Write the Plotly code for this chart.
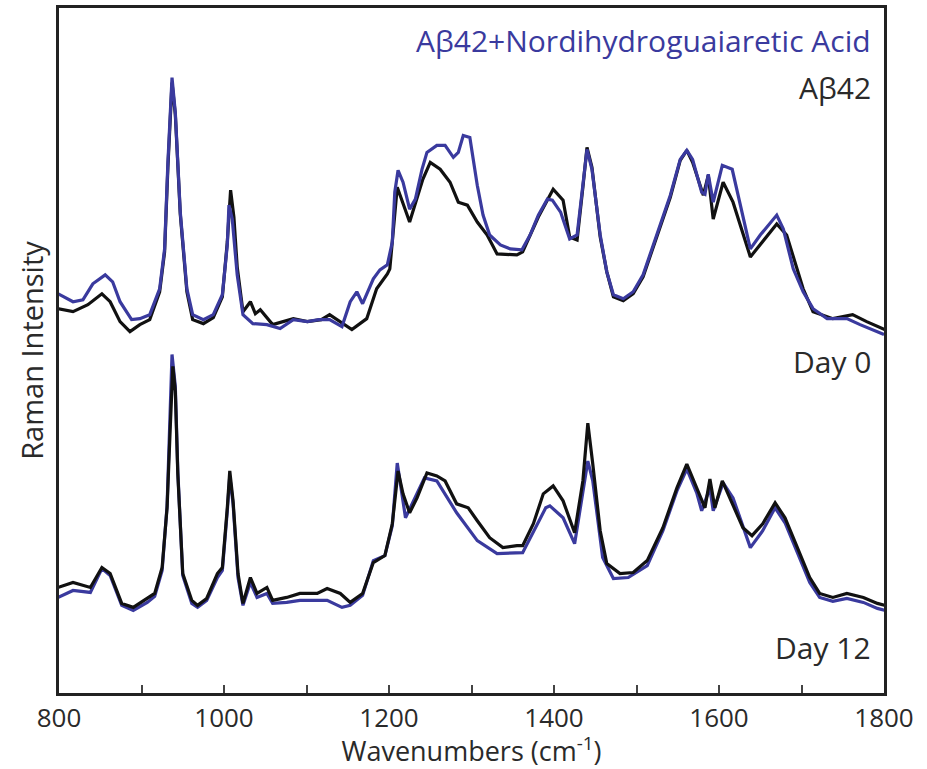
import plotly.graph_objects as go

# ---- Day 0, Aβ42 (black) ----
wn_d0_ab = [799, 817, 835, 852, 862, 874, 886, 898, 910, 922, 928, 932, 937, 941, 947, 955, 962, 975, 987, 998,
            1004, 1008, 1012, 1016, 1023, 1032, 1038, 1044, 1059, 1084, 1101, 1118, 1128, 1140, 1155, 1173, 1185,
            1198, 1201, 1210, 1225, 1241, 1250, 1262, 1274, 1284, 1295, 1307, 1319, 1331, 1355, 1362, 1381, 1399,
            1411, 1419, 1428, 1435, 1440, 1446, 1456, 1464, 1472, 1484, 1496, 1508, 1525, 1541, 1553, 1561, 1568,
            1581, 1587, 1593, 1605, 1617, 1638, 1650, 1670, 1682, 1702, 1714, 1738, 1762, 1779, 1801]
py_d0_ab = [307, 310, 303, 292, 300, 320, 330, 323, 318, 290, 250, 165, 80, 112, 212, 290, 318, 322, 316, 295,
            240, 188, 215, 265, 310, 300, 312, 308, 323, 317, 320, 318, 313, 320, 328, 317, 287,
            272, 267, 185, 220, 177, 160, 167, 180, 200, 203, 220, 233, 252, 253, 250, 215, 187,
            198, 235, 238, 185, 145, 165, 235, 270, 295, 299, 292, 275, 235, 195, 158, 148, 160,
            193, 173, 217, 180, 200, 255, 243, 222, 233, 287, 310, 317, 313, 320, 328]

# ---- Day 0, Aβ42 + NDGA (blue) ----
wn_d0_nd = [799, 817, 829, 841, 856, 865, 874, 888, 898, 910, 922, 928, 932, 937, 941, 947, 955, 962, 975, 987,
            998, 1004, 1006, 1010, 1016, 1023, 1035, 1052, 1068, 1084, 1101, 1115, 1128, 1143, 1153, 1161, 1168,
            1181, 1189, 1198, 1204, 1207, 1211, 1217, 1225, 1232, 1240, 1246, 1258, 1268, 1278, 1284, 1290, 1298,
            1307, 1314, 1322, 1335, 1347, 1361, 1371, 1381, 1392, 1398, 1408, 1419, 1428, 1435, 1440, 1446, 1456,
            1464, 1472, 1484, 1496, 1508, 1525, 1541, 1553, 1561, 1568, 1579, 1583, 1587, 1593, 1604, 1616, 1625,
            1638, 1650, 1670, 1678, 1690, 1702, 1714, 1731, 1755, 1771, 1800]
py_d0_nd = [292, 300, 298, 282, 273, 280, 300, 318, 317, 313, 287, 247, 160, 75, 110, 210, 287, 313, 318, 313,
            293, 243, 203, 217, 273, 313, 322, 323, 327, 318, 320, 318, 318, 325, 300, 290, 302,
            277, 268, 263, 240, 190, 168, 180, 207, 197, 167, 150, 143, 143, 155, 150, 133, 135,
            183, 213, 233, 243, 247, 248, 233, 213, 197, 198, 210, 237, 233, 183, 147, 167, 233,
            270, 293, 297, 290, 273, 233, 193, 157, 148, 157, 190, 192, 172, 200, 163, 167, 200,
            247, 233, 213, 227, 267, 290, 307, 317, 317, 323, 333]

# ---- Day 12, Aβ42 (black) ----
wn_d12_ab = [799, 817, 838, 852, 862, 876, 890, 907, 916, 925, 931, 935, 938, 941, 944, 950, 961, 968, 979, 992,
             998, 1004, 1007, 1011, 1017, 1023, 1032, 1040, 1052, 1059, 1076, 1092, 1113, 1125, 1141, 1153, 1168,
             1181, 1195, 1204, 1211, 1217, 1225, 1234, 1246, 1258, 1268, 1282, 1296, 1307, 1322, 1338, 1355, 1362,
             1375, 1387, 1399, 1411, 1425, 1435, 1441, 1447, 1456, 1464, 1480, 1496, 1513, 1532, 1549, 1561, 1573,
             1583, 1589, 1595, 1604, 1616, 1629, 1640, 1653, 1668, 1680, 1695, 1710, 1722, 1738, 1755, 1775, 1792, 1801]
py_d12_ab = [587, 582, 587, 567, 573, 603, 607, 598, 593, 567, 507, 423, 365, 390, 473, 573, 600, 605, 598, 573,
             567, 507, 470, 500, 573, 603, 577, 593, 587, 600, 597, 593, 593, 588, 593, 602, 593,
             562, 555, 523, 470, 493, 512, 497, 472, 475, 480, 503, 507, 520, 537, 547, 545, 545,
             523, 493, 485, 500, 532, 480, 422, 463, 530, 563, 573, 572, 560, 527, 487, 463, 487,
             507, 478, 507, 480, 503, 527, 535, 523, 502, 517, 547, 577, 593, 597, 593, 597, 603, 605]

# ---- Day 12, Aβ42 + NDGA (blue) ----
wn_d12_nd = [799, 817, 838, 852, 862, 876, 890, 907, 916, 925, 931, 935, 937, 941, 944, 950, 961, 968, 979, 992,
             998, 1004, 1007, 1011, 1017, 1023, 1032, 1040, 1052, 1059, 1076, 1092, 1113, 1125, 1143, 1153, 1168,
             1181, 1195, 1204, 1210, 1220, 1243, 1258, 1282, 1307, 1331, 1362, 1390, 1395, 1411, 1425, 1441, 1447,
             1459, 1472, 1490, 1513, 1532, 1549, 1561, 1573, 1579, 1589, 1593, 1605, 1617, 1638, 1653, 1668, 1680,
             1695, 1710, 1722, 1738, 1755, 1775, 1792, 1801]
py_d12_nd = [597, 590, 592, 568, 575, 605, 610, 602, 596, 570, 505, 410, 353, 385, 470, 575, 603, 607, 600, 577,
             570, 510, 475, 503, 577, 605, 582, 597, 593, 603, 602, 600, 600, 600, 607, 605, 595,
             560, 555, 525, 462, 517, 477, 480, 512, 540, 553, 552, 507, 505, 517, 543, 460, 480,
             557, 578, 577, 565, 530, 490, 468, 492, 510, 487, 510, 482, 497, 547, 530, 507, 522,
             552, 582, 597, 601, 598, 602, 608, 610]

# Intensities measured downward from the top frame; convert to upward intensity (arbitrary units)
BASE = 693
def inten(arr):
    return [BASE - v for v in arr]

x_ticks = [800, 1000, 1200, 1400, 1600, 1800]
BLUE = "#3a3a9e"
BLACK = "#111111"
FONT = "Open Sans"
TXT = "#2a2a2a"

fig = go.Figure()
fig.add_trace(go.Scatter(x=wn_d0_ab, y=inten(py_d0_ab), mode="lines",
                         line=dict(color=BLACK, width=3.2), name="Aβ42 Day 0"))
fig.add_trace(go.Scatter(x=wn_d0_nd, y=inten(py_d0_nd), mode="lines",
                         line=dict(color=BLUE, width=3.2), name="Aβ42+NDGA Day 0"))
fig.add_trace(go.Scatter(x=wn_d12_nd, y=inten(py_d12_nd), mode="lines",
                         line=dict(color=BLUE, width=3.2), name="Aβ42+NDGA Day 12"))
fig.add_trace(go.Scatter(x=wn_d12_ab, y=inten(py_d12_ab), mode="lines",
                         line=dict(color=BLACK, width=3.2), name="Aβ42 Day 12"))

ann_font = dict(family=FONT, size=30, color=TXT)
fig.add_annotation(text="Aβ42+Nordihydroguaiaretic Acid", xref="paper", yref="paper", x=0.987, y=0.952,
                   xanchor="right", yanchor="middle", showarrow=False,
                   font=dict(family=FONT, size=30, color=BLUE))
fig.add_annotation(text="Aβ42", xref="paper", yref="paper", x=0.987, y=0.884,
                   xanchor="right", yanchor="middle", showarrow=False, font=ann_font)
fig.add_annotation(text="Day 0", xref="paper", yref="paper", x=0.987, y=0.484,
                   xanchor="right", yanchor="middle", showarrow=False, font=ann_font)
fig.add_annotation(text="Day 12", xref="paper", yref="paper", x=0.987, y=0.067,
                   xanchor="right", yanchor="middle", showarrow=False, font=ann_font)

fig.update_layout(
    width=927, height=769,
    margin=dict(l=59, r=43, t=5, b=76),
    plot_bgcolor="white", paper_bgcolor="white",
    showlegend=False,
    font=dict(family=FONT, size=26, color=TXT),
    xaxis=dict(range=[800, 1800], tickvals=x_ticks, ticktext=[str(v) for v in x_ticks],
               ticks="inside", ticklen=8, tickwidth=1.5, tickcolor="#444444",
               minor=dict(tickvals=[900, 1100, 1300, 1500, 1700], ticks="inside", ticklen=8,
                          tickwidth=1.5, tickcolor="#444444"),
               showline=True, linecolor="#222222", linewidth=3, mirror=True,
               showgrid=False, zeroline=False,
               tickfont=dict(family=FONT, size=26, color=TXT),
               title=dict(text="Wavenumbers (cm<sup>-1</sup>)", standoff=2,
                          font=dict(family=FONT, size=27, color=TXT))),
    yaxis=dict(range=[0, 688], showticklabels=False, ticks="",
               showline=True, linecolor="#222222", linewidth=3, mirror=True,
               showgrid=False, zeroline=False,
               title=dict(text="Raman Intensity", standoff=4,
                          font=dict(family=FONT, size=29, color=TXT))),
)

fig.write_html("out.html")
